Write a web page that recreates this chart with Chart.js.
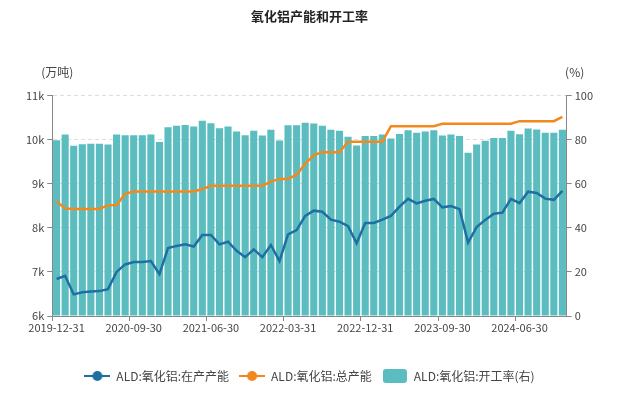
<!DOCTYPE html>
<html lang="zh">
<head>
<meta charset="UTF-8">
<title>氧化铝产能和开工率</title>
<script src="https://cdn.jsdelivr.net/npm/chart.js"></script>
<style>
  html, body { margin: 0; padding: 0; background: #fff; }
  #wrap { width: 621px; height: 394px; }
</style>
</head>
<body>
<div id="wrap"><canvas id="myChart" width="621" height="394"></canvas></div>
<script>
// 月末日期（类别）
const months = [
  '2019-12-31','2020-01-31','2020-02-29','2020-03-31','2020-04-30','2020-05-31','2020-06-30','2020-07-31','2020-08-31','2020-09-30',
  '2020-10-31','2020-11-30','2020-12-31','2021-01-31','2021-02-28','2021-03-31','2021-04-30','2021-05-31','2021-06-30','2021-07-31',
  '2021-08-31','2021-09-30','2021-10-31','2021-11-30','2021-12-31','2022-01-31','2022-02-28','2022-03-31','2022-04-30','2022-05-31',
  '2022-06-30','2022-07-31','2022-08-31','2022-09-30','2022-10-31','2022-11-30','2022-12-31','2023-01-31','2023-02-28','2023-03-31',
  '2023-04-30','2023-05-31','2023-06-30','2023-07-31','2023-08-31','2023-09-30','2023-10-31','2023-11-30','2023-12-31','2024-01-31',
  '2024-02-29','2024-03-31','2024-04-30','2024-05-31','2024-06-30','2024-07-31','2024-08-31','2024-09-30','2024-10-31','2024-11-30'
];

// 在产产能（万吨）
const runningCapacity = [
  6840, 6910, 6490, 6540, 6555, 6565, 6610, 7000, 7170, 7225,
  7225, 7245, 6950, 7540, 7590, 7625, 7575, 7840, 7840, 7625,
  7685, 7480, 7335, 7510, 7335, 7610, 7245, 7850, 7950, 8270,
  8390, 8365, 8185, 8140, 8040, 7650, 8110, 8110, 8185, 8270,
  8480, 8658, 8555, 8613, 8655, 8465, 8495, 8425, 7665, 8020,
  8180, 8320, 8345, 8658, 8560, 8820, 8790, 8662, 8635, 8840
];

// 总产能（万吨）
const totalCapacity = [
  8600, 8440, 8430, 8430, 8430, 8430, 8515, 8520, 8770, 8825,
  8825, 8825, 8825, 8825, 8825, 8825, 8825, 8880, 8955, 8955,
  8955, 8955, 8955, 8955, 8955, 9050, 9110, 9110, 9205, 9450,
  9650, 9713, 9713, 9713, 9955, 9955, 9955, 9955, 9955, 10305,
  10305, 10305, 10305, 10305, 10305, 10360, 10360, 10360, 10360, 10360,
  10360, 10360, 10360, 10360, 10420, 10420, 10420, 10420, 10420, 10515
];

// 开工率（%）
const utilization = [
  79.7, 82.3, 77.2, 77.9, 78.2, 78.2, 77.8, 82.3, 82.0, 82.0,
  82.0, 82.3, 79.0, 85.6, 86.3, 86.7, 86.0, 88.6, 87.5, 85.2,
  86.0, 83.7, 82.0, 84.0, 81.9, 84.5, 79.6, 86.6, 86.6, 87.7,
  87.3, 86.3, 84.5, 84.1, 81.3, 77.4, 81.7, 81.7, 82.3, 80.5,
  82.6, 84.3, 83.2, 83.7, 84.3, 81.9, 82.3, 81.7, 74.1, 77.8,
  79.5, 80.8, 80.8, 84.0, 82.5, 85.1, 84.6, 83.2, 83.1, 84.5
];

const labelStep = 9;
const FONT = "'Noto Sans CJK SC', 'Noto Sans', sans-serif";
const BLUE = '#1f6fa3';
const ORANGE = '#f2891d';
const TEAL = '#5bbdbf';

// 图例图标
function lineIcon(color) {
  const c = document.createElement('canvas');
  c.width = 26; c.height = 12;
  const g = c.getContext('2d');
  g.strokeStyle = color; g.lineWidth = 2;
  g.beginPath(); g.moveTo(0, 6); g.lineTo(26, 6); g.stroke();
  g.fillStyle = color;
  g.beginPath(); g.arc(13, 6, 5, 0, Math.PI * 2); g.fill();
  return c;
}
function rectIcon(color) {
  const c = document.createElement('canvas');
  c.width = 24; c.height = 14;
  const g = c.getContext('2d');
  g.fillStyle = color;
  g.beginPath(); g.roundRect(0, 0, 24, 14, 3); g.fill();
  return c;
}

// 轴单位文字
const unitLabels = {
  id: 'unitLabels',
  afterDraw(chart) {
    const { ctx, chartArea } = chart;
    ctx.save();
    ctx.font = '12px ' + FONT;
    ctx.fillStyle = '#444';
    ctx.textAlign = 'center';
    ctx.textBaseline = 'middle';
    ctx.fillText('(万吨)', chartArea.left + 5, chartArea.top - 23);
    ctx.fillText('(%)', chartArea.right + 8, chartArea.top - 23);
    ctx.restore();
  }
};

new Chart(document.getElementById('myChart').getContext('2d'), {
  type: 'bar',
  data: {
    labels: months,
    datasets: [
      {
        type: 'line',
        label: 'ALD:氧化铝:在产产能',
        data: runningCapacity,
        yAxisID: 'y',
        borderColor: BLUE,
        backgroundColor: BLUE,
        borderWidth: 2.5,
        pointRadius: 0,
        tension: 0,
        order: 0,
        pointStyle: lineIcon(BLUE)
      },
      {
        type: 'line',
        label: 'ALD:氧化铝:总产能',
        data: totalCapacity,
        yAxisID: 'y',
        borderColor: ORANGE,
        backgroundColor: ORANGE,
        borderWidth: 2.5,
        pointRadius: 0,
        tension: 0,
        order: 0,
        pointStyle: lineIcon(ORANGE)
      },
      {
        type: 'bar',
        label: 'ALD:氧化铝:开工率(右)',
        data: utilization,
        yAxisID: 'y1',
        backgroundColor: TEAL,
        categoryPercentage: 1,
        barPercentage: 0.83,
        order: 1,
        pointStyle: rectIcon(TEAL)
      }
    ]
  },
  options: {
    responsive: false,
    animation: false,
    layout: { padding: { left: 23, right: 25, top: 0, bottom: 2 } },
    plugins: {
      title: {
        display: true,
        text: '氧化铝产能和开工率',
        color: '#222',
        font: { family: FONT, size: 13, weight: 'bold' },
        padding: { top: 8, bottom: 72 }
      },
      legend: {
        position: 'bottom',
        labels: {
          usePointStyle: true,
          pointStyleWidth: 26,
          color: '#444',
          font: { family: FONT, size: 12 },
          padding: 10
        }
      },
      tooltip: { enabled: false }
    },
    scales: {
      x: {
        afterFit: scale => { scale.height += 26; },
        grid: {
          drawOnChartArea: false,
          tickLength: 5,
          tickColor: ctx => (ctx.index % labelStep === 0 ? '#888' : 'rgba(0,0,0,0)')
        },
        border: { color: '#888' },
        ticks: {
          autoSkip: false,
          maxRotation: 0,
          color: '#444',
          font: { family: FONT, size: 11, lineHeight: 1 },
          padding: 1,
          callback: (v, i) => (i % labelStep === 0 ? months[i] : '')
        }
      },
      y: {
        position: 'left',
        min: 6000,
        max: 11000,
        grid: {
          color: ctx => (ctx.tick.value === 6000 ? 'rgba(0,0,0,0)' : '#dedede'),
          tickColor: '#888',
          tickLength: 5
        },
        border: { color: '#888', dash: [4, 3] },
        ticks: {
          stepSize: 1000,
          color: '#444',
          font: { family: FONT, size: 11 },
          padding: 3,
          callback: v => (v / 1000) + 'k'
        }
      },
      y1: {
        position: 'right',
        min: 0,
        max: 100,
        grid: { drawOnChartArea: false, tickColor: '#888', tickLength: 5 },
        border: { color: '#888' },
        ticks: {
          stepSize: 20,
          color: '#444',
          font: { family: FONT, size: 11 },
          padding: 3
        }
      }
    }
  },
  plugins: [unitLabels]
});
</script>
</body>
</html>
